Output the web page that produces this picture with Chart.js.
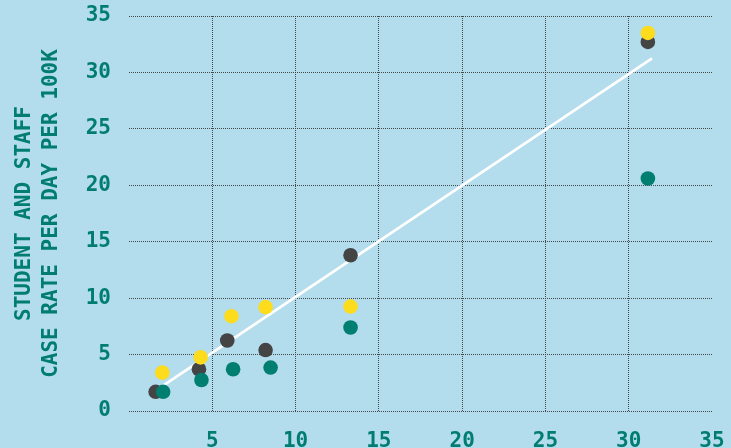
<!DOCTYPE html>
<html>
<head>
<meta charset="utf-8">
<script src="https://cdn.jsdelivr.net/npm/chart.js@4/dist/chart.umd.min.js"></script>
<style>
  html, body { margin: 0; padding: 0; background: #b3dcec; }
  #wrap { width: 731px; height: 448px; }
</style>
</head>
<body>
<div id="wrap"><canvas id="rateChart"></canvas></div>
<script>
// valors llegits del gràfic
const darkX = [1.6, 4.2, 5.9, 8.2, 13.3, 31.15];
const darkY = [1.7, 3.7, 6.25, 5.4, 13.8, 32.7];
const yellowX = [2.0, 4.3, 6.15, 8.2, 13.3, 31.15];
const yellowY = [3.4, 4.75, 8.4, 9.2, 9.25, 33.5];
const tealX = [2.05, 4.35, 6.25, 8.5, 13.3, 31.15];
const tealY = [1.7, 2.75, 3.7, 3.85, 7.4, 20.6];
const trendX = [2.0, 31.4];
const trendY = [2.2, 31.25];
const xTicks = [0, 5, 10, 15, 20, 25, 30, 35];
const yTicks = [0, 5, 10, 15, 20, 25, 30, 35];
const yTitle = ['STUDENT AND STAFF', 'CASE RATE PER DAY PER 100K'];

const TEAL = '#007d70';
const GRID = 'rgba(55,55,55,0.9)';
const FONT = { family: 'DejaVu Sans Mono', size: 21, weight: 'bold' };

const pts = (xs, ys) => xs.map((x, i) => ({ x: x, y: ys[i] }));

const ctx = document.getElementById('rateChart').getContext('2d');
const rateChart = new Chart(ctx, {
    type: 'scatter',
    data: {
        datasets: [
            {
                label: 'yellow',
                data: pts(yellowX, yellowY),
                backgroundColor: '#fddb1d',
                borderWidth: 0,
                pointRadius: 7.3,
                order: 0
            },
            {
                label: 'teal',
                data: pts(tealX, tealY),
                backgroundColor: '#007f71',
                borderWidth: 0,
                pointRadius: 7.3,
                order: 1
            },
            {
                label: 'dark',
                data: pts(darkX, darkY),
                backgroundColor: '#444444',
                borderWidth: 0,
                pointRadius: 7.3,
                order: 2
            },
            {
                type: 'line',
                label: 'trend',
                data: pts(trendX, trendY),
                borderColor: '#ffffff',
                borderWidth: 2.8,
                pointRadius: 0,
                fill: false,
                order: 3
            }
        ]
    },
    options: {
        responsive: true,
        maintainAspectRatio: false,
        animation: false,
        layout: { padding: { top: 16, right: 19, left: 0, bottom: 0 } },
        plugins: {
            legend: { display: false },
            tooltip: { enabled: false }
        },
        scales: {
            x: {
                type: 'linear',
                min: 0,
                max: 35,
                afterBuildTicks: (axis) => { axis.ticks = xTicks.map(v => ({ value: v })); },
                afterFit: (axis) => {
                    axis.height = 37;
                    axis.paddingLeft = 0;
                    axis.paddingRight = 0;
                },
                border: { display: false, dash: [1, 1] },
                grid: {
                    drawTicks: false,
                    lineWidth: 1,
                    // no vertical line at the edges
                    color: (c) => (c.tick && (c.tick.value === 0 || c.tick.value === 35)) ? 'rgba(0,0,0,0)' : GRID
                },
                ticks: {
                    padding: 18,
                    color: TEAL,
                    font: FONT,
                    callback: (v) => (v === 0 ? '' : v)
                }
            },
            y: {
                type: 'linear',
                min: 0,
                max: 35,
                afterBuildTicks: (axis) => { axis.ticks = yTicks.map(v => ({ value: v })); },
                afterFit: (axis) => {
                    axis.width = 129;
                    axis.paddingTop = 0;
                    axis.paddingBottom = 0;
                },
                border: { display: false, dash: [1, 1] },
                grid: {
                    drawTicks: false,
                    lineWidth: 1,
                    color: GRID
                },
                ticks: {
                    padding: 18,
                    color: TEAL,
                    font: FONT
                },
                title: {
                    display: true,
                    text: yTitle,
                    color: TEAL,
                    padding: { top: 11, bottom: 0 },
                    font: { family: 'DejaVu Sans Mono', size: 21, weight: 'bold', lineHeight: 1.3 }
                }
            }
        }
    }
});
</script>
</body>
</html>
